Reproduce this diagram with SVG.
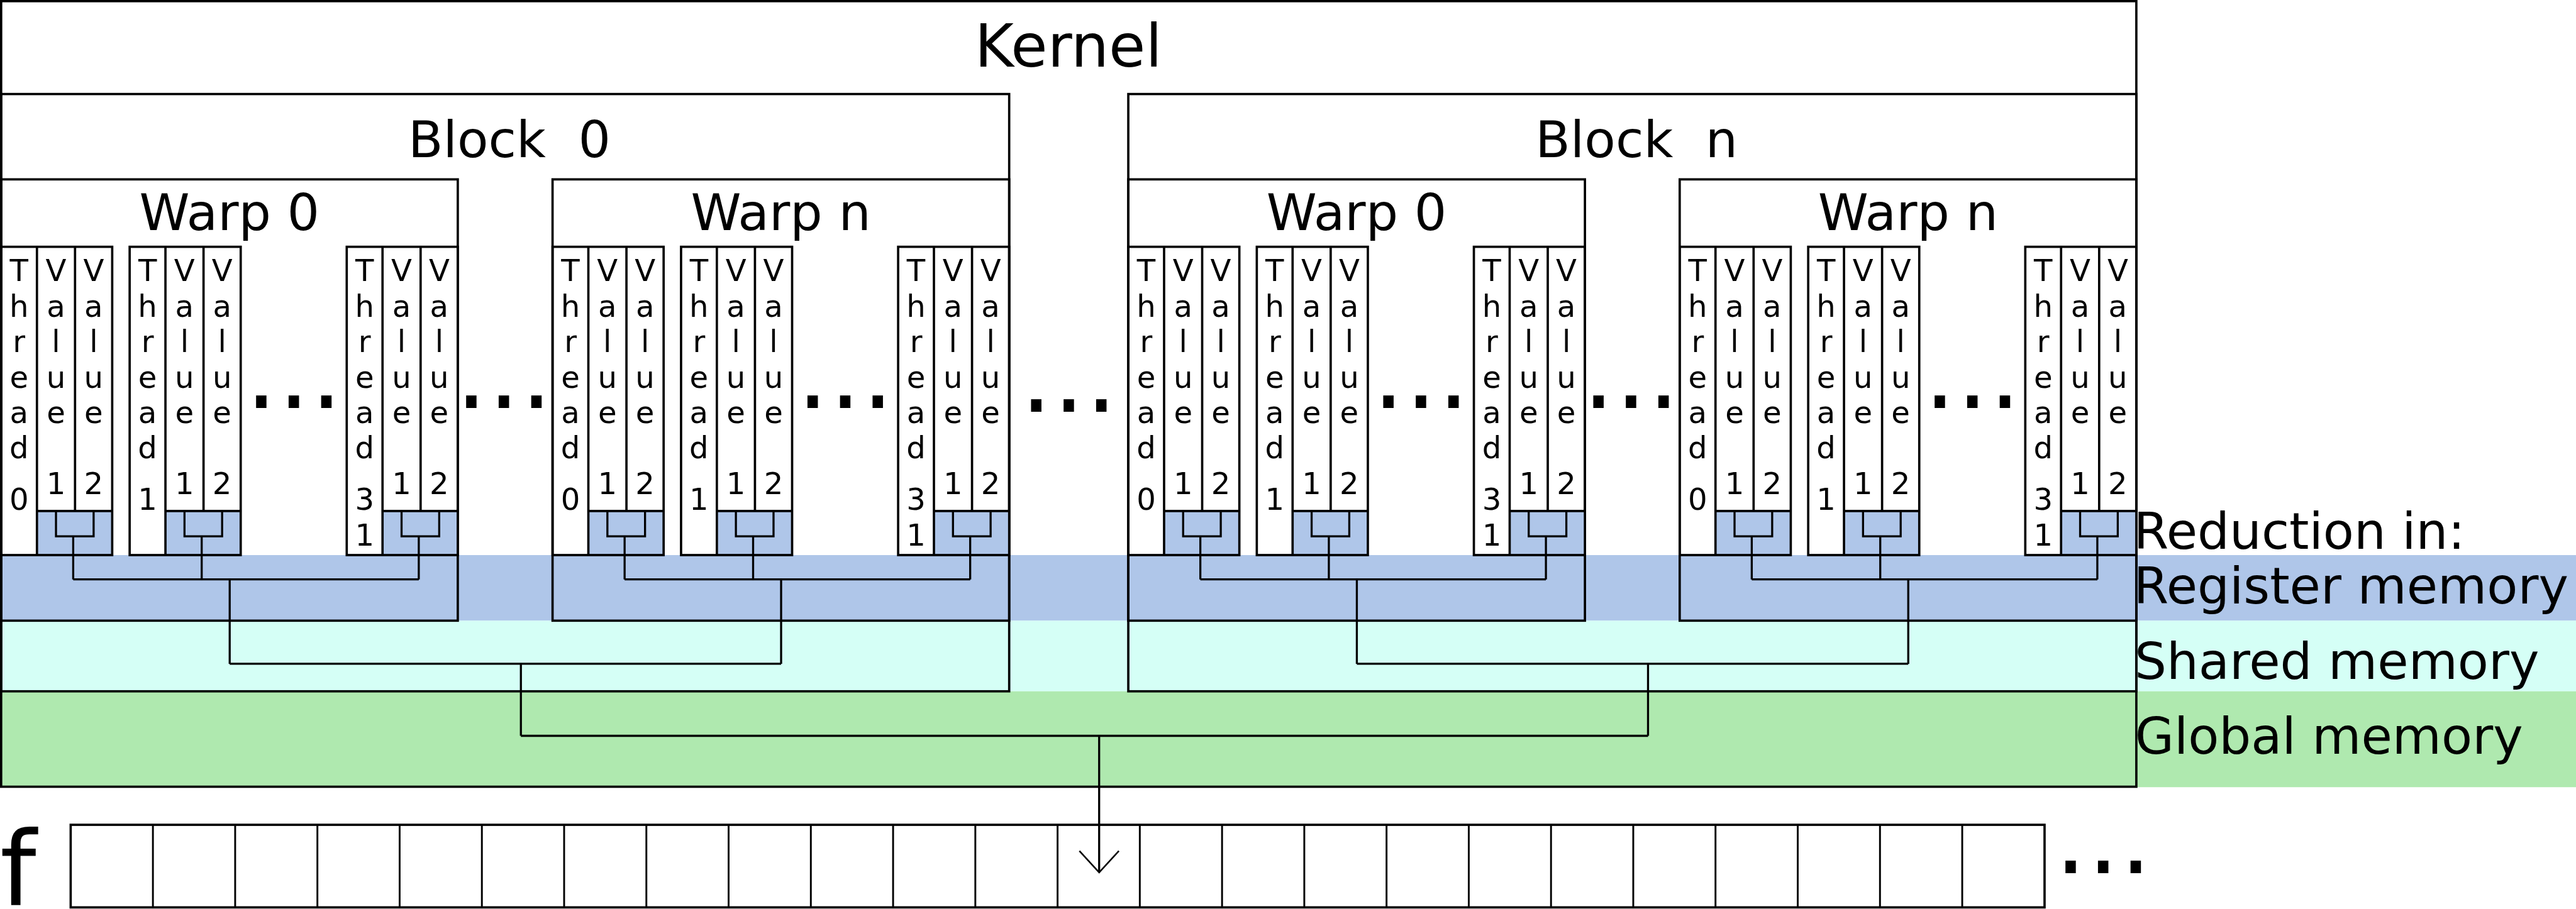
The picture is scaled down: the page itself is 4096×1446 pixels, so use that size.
<svg xmlns="http://www.w3.org/2000/svg" width="4096" height="1446" viewBox="0 0 4096 1446">
<style>
.b{fill:none;stroke:#000;stroke-width:5}
.c{fill:none;stroke:#000;stroke-width:4.5}
.cell{fill:none;stroke:#000;stroke-width:4}
.blue{fill:#afc6e9}
.t{font-family:"DejaVu Sans","Liberation Sans",sans-serif;fill:#000}
.v{font-size:66px;text-anchor:middle}
.h{font-size:111px;text-anchor:middle}
.k{font-size:130px;text-anchor:middle}
.lab{font-size:110px}
.dots{font-size:220px;letter-spacing:1px}
.f{font-size:224px}
</style>
<rect x="0" y="0" width="4096" height="1446" fill="#fff"/>
<g transform="scale(0.729735)">
<g id="bands">
<rect x="0" y="1210" width="5613" height="143" fill="#afc6e9"/>
<rect x="0" y="1353" width="5613" height="154" fill="#d5fff6"/>
<rect x="0" y="1507" width="5613" height="209" fill="#afe9af"/>
</g>
<g id="kernel">
<rect class="b" x="2.5" y="2.5" width="4652.5" height="1712.5"/>
<text class="t k" x="2328" y="145">Kernel</text>
</g>
<g id="block-0">
<rect class="b" x="2.5" y="205" width="2196.5" height="1302"/>
<text class="t h" x="1110" y="343" xml:space="preserve">Block  0</text>
</g>
<g id="block-n">
<rect class="b" x="2458.5" y="205" width="2196.5" height="1302"/>
<text class="t h" x="3566" y="343" xml:space="preserve">Block  n</text>
</g>

<g id="block0-warp0" transform="translate(2.5,0)">
<rect class="b" x="0" y="391" width="995" height="962"/>
<text class="t h" x="497.5" y="502">Warp 0</text>
<g id="block0-warp0-thread0">
<rect class="blue" x="78" y="1114" width="164" height="96"/>
<rect class="b" x="0" y="538" width="242" height="672"/>
<path class="b" d="M78 538V1210M161 538V1114M78 1114H242"/>
<text class="t v"><tspan x="39" y="612">T</tspan><tspan x="39" y="690">h</tspan><tspan x="39" y="767">r</tspan><tspan x="39" y="845">e</tspan><tspan x="39" y="922">a</tspan><tspan x="39" y="999">d</tspan><tspan x="39" y="1050"> </tspan><tspan x="39" y="1111">0</tspan></text>
<text class="t v"><tspan x="119.5" y="612">V</tspan><tspan x="119.5" y="690">a</tspan><tspan x="119.5" y="767">l</tspan><tspan x="119.5" y="845">u</tspan><tspan x="119.5" y="922">e</tspan><tspan x="119.5" y="999"> </tspan><tspan x="119.5" y="1077">1</tspan></text>
<text class="t v"><tspan x="201.5" y="612">V</tspan><tspan x="201.5" y="690">a</tspan><tspan x="201.5" y="767">l</tspan><tspan x="201.5" y="845">u</tspan><tspan x="201.5" y="922">e</tspan><tspan x="201.5" y="999"> </tspan><tspan x="201.5" y="1077">2</tspan></text>
</g>
<g id="block0-warp0-thread1" transform="translate(280,0)">
<rect class="blue" x="78" y="1114" width="164" height="96"/>
<rect class="b" x="0" y="538" width="242" height="672"/>
<path class="b" d="M78 538V1210M161 538V1114M78 1114H242"/>
<text class="t v"><tspan x="39" y="612">T</tspan><tspan x="39" y="690">h</tspan><tspan x="39" y="767">r</tspan><tspan x="39" y="845">e</tspan><tspan x="39" y="922">a</tspan><tspan x="39" y="999">d</tspan><tspan x="39" y="1050"> </tspan><tspan x="39" y="1111">1</tspan></text>
<text class="t v"><tspan x="119.5" y="612">V</tspan><tspan x="119.5" y="690">a</tspan><tspan x="119.5" y="767">l</tspan><tspan x="119.5" y="845">u</tspan><tspan x="119.5" y="922">e</tspan><tspan x="119.5" y="999"> </tspan><tspan x="119.5" y="1077">1</tspan></text>
<text class="t v"><tspan x="201.5" y="612">V</tspan><tspan x="201.5" y="690">a</tspan><tspan x="201.5" y="767">l</tspan><tspan x="201.5" y="845">u</tspan><tspan x="201.5" y="922">e</tspan><tspan x="201.5" y="999"> </tspan><tspan x="201.5" y="1077">2</tspan></text>
</g>
<g id="block0-warp0-thread31" transform="translate(753,0)">
<rect class="blue" x="78" y="1114" width="164" height="96"/>
<rect class="b" x="0" y="538" width="242" height="672"/>
<path class="b" d="M78 538V1210M161 538V1114M78 1114H242"/>
<text class="t v"><tspan x="39" y="612">T</tspan><tspan x="39" y="690">h</tspan><tspan x="39" y="767">r</tspan><tspan x="39" y="845">e</tspan><tspan x="39" y="922">a</tspan><tspan x="39" y="999">d</tspan><tspan x="39" y="1050"> </tspan><tspan x="39" y="1111">3</tspan><tspan x="39" y="1189">1</tspan></text>
<text class="t v"><tspan x="119.5" y="612">V</tspan><tspan x="119.5" y="690">a</tspan><tspan x="119.5" y="767">l</tspan><tspan x="119.5" y="845">u</tspan><tspan x="119.5" y="922">e</tspan><tspan x="119.5" y="999"> </tspan><tspan x="119.5" y="1077">1</tspan></text>
<text class="t v"><tspan x="201.5" y="612">V</tspan><tspan x="201.5" y="690">a</tspan><tspan x="201.5" y="767">l</tspan><tspan x="201.5" y="845">u</tspan><tspan x="201.5" y="922">e</tspan><tspan x="201.5" y="999"> </tspan><tspan x="201.5" y="1077">2</tspan></text>
</g>
<text class="t dots" x="532" y="889">...</text>
</g>

<g id="block0-warpn" transform="translate(1204,0)">
<rect class="b" x="0" y="391" width="995" height="962"/>
<text class="t h" x="497.5" y="502">Warp n</text>
<g id="block0-warpn-thread0">
<rect class="blue" x="78" y="1114" width="164" height="96"/>
<rect class="b" x="0" y="538" width="242" height="672"/>
<path class="b" d="M78 538V1210M161 538V1114M78 1114H242"/>
<text class="t v"><tspan x="39" y="612">T</tspan><tspan x="39" y="690">h</tspan><tspan x="39" y="767">r</tspan><tspan x="39" y="845">e</tspan><tspan x="39" y="922">a</tspan><tspan x="39" y="999">d</tspan><tspan x="39" y="1050"> </tspan><tspan x="39" y="1111">0</tspan></text>
<text class="t v"><tspan x="119.5" y="612">V</tspan><tspan x="119.5" y="690">a</tspan><tspan x="119.5" y="767">l</tspan><tspan x="119.5" y="845">u</tspan><tspan x="119.5" y="922">e</tspan><tspan x="119.5" y="999"> </tspan><tspan x="119.5" y="1077">1</tspan></text>
<text class="t v"><tspan x="201.5" y="612">V</tspan><tspan x="201.5" y="690">a</tspan><tspan x="201.5" y="767">l</tspan><tspan x="201.5" y="845">u</tspan><tspan x="201.5" y="922">e</tspan><tspan x="201.5" y="999"> </tspan><tspan x="201.5" y="1077">2</tspan></text>
</g>
<g id="block0-warpn-thread1" transform="translate(280,0)">
<rect class="blue" x="78" y="1114" width="164" height="96"/>
<rect class="b" x="0" y="538" width="242" height="672"/>
<path class="b" d="M78 538V1210M161 538V1114M78 1114H242"/>
<text class="t v"><tspan x="39" y="612">T</tspan><tspan x="39" y="690">h</tspan><tspan x="39" y="767">r</tspan><tspan x="39" y="845">e</tspan><tspan x="39" y="922">a</tspan><tspan x="39" y="999">d</tspan><tspan x="39" y="1050"> </tspan><tspan x="39" y="1111">1</tspan></text>
<text class="t v"><tspan x="119.5" y="612">V</tspan><tspan x="119.5" y="690">a</tspan><tspan x="119.5" y="767">l</tspan><tspan x="119.5" y="845">u</tspan><tspan x="119.5" y="922">e</tspan><tspan x="119.5" y="999"> </tspan><tspan x="119.5" y="1077">1</tspan></text>
<text class="t v"><tspan x="201.5" y="612">V</tspan><tspan x="201.5" y="690">a</tspan><tspan x="201.5" y="767">l</tspan><tspan x="201.5" y="845">u</tspan><tspan x="201.5" y="922">e</tspan><tspan x="201.5" y="999"> </tspan><tspan x="201.5" y="1077">2</tspan></text>
</g>
<g id="block0-warpn-thread31" transform="translate(753,0)">
<rect class="blue" x="78" y="1114" width="164" height="96"/>
<rect class="b" x="0" y="538" width="242" height="672"/>
<path class="b" d="M78 538V1210M161 538V1114M78 1114H242"/>
<text class="t v"><tspan x="39" y="612">T</tspan><tspan x="39" y="690">h</tspan><tspan x="39" y="767">r</tspan><tspan x="39" y="845">e</tspan><tspan x="39" y="922">a</tspan><tspan x="39" y="999">d</tspan><tspan x="39" y="1050"> </tspan><tspan x="39" y="1111">3</tspan><tspan x="39" y="1189">1</tspan></text>
<text class="t v"><tspan x="119.5" y="612">V</tspan><tspan x="119.5" y="690">a</tspan><tspan x="119.5" y="767">l</tspan><tspan x="119.5" y="845">u</tspan><tspan x="119.5" y="922">e</tspan><tspan x="119.5" y="999"> </tspan><tspan x="119.5" y="1077">1</tspan></text>
<text class="t v"><tspan x="201.5" y="612">V</tspan><tspan x="201.5" y="690">a</tspan><tspan x="201.5" y="767">l</tspan><tspan x="201.5" y="845">u</tspan><tspan x="201.5" y="922">e</tspan><tspan x="201.5" y="999"> </tspan><tspan x="201.5" y="1077">2</tspan></text>
</g>
<text class="t dots" x="532" y="889">...</text>
</g>

<g id="blockn-warp0" transform="translate(2458.5,0)">
<rect class="b" x="0" y="391" width="995" height="962"/>
<text class="t h" x="497.5" y="502">Warp 0</text>
<g id="blockn-warp0-thread0">
<rect class="blue" x="78" y="1114" width="164" height="96"/>
<rect class="b" x="0" y="538" width="242" height="672"/>
<path class="b" d="M78 538V1210M161 538V1114M78 1114H242"/>
<text class="t v"><tspan x="39" y="612">T</tspan><tspan x="39" y="690">h</tspan><tspan x="39" y="767">r</tspan><tspan x="39" y="845">e</tspan><tspan x="39" y="922">a</tspan><tspan x="39" y="999">d</tspan><tspan x="39" y="1050"> </tspan><tspan x="39" y="1111">0</tspan></text>
<text class="t v"><tspan x="119.5" y="612">V</tspan><tspan x="119.5" y="690">a</tspan><tspan x="119.5" y="767">l</tspan><tspan x="119.5" y="845">u</tspan><tspan x="119.5" y="922">e</tspan><tspan x="119.5" y="999"> </tspan><tspan x="119.5" y="1077">1</tspan></text>
<text class="t v"><tspan x="201.5" y="612">V</tspan><tspan x="201.5" y="690">a</tspan><tspan x="201.5" y="767">l</tspan><tspan x="201.5" y="845">u</tspan><tspan x="201.5" y="922">e</tspan><tspan x="201.5" y="999"> </tspan><tspan x="201.5" y="1077">2</tspan></text>
</g>
<g id="blockn-warp0-thread1" transform="translate(280,0)">
<rect class="blue" x="78" y="1114" width="164" height="96"/>
<rect class="b" x="0" y="538" width="242" height="672"/>
<path class="b" d="M78 538V1210M161 538V1114M78 1114H242"/>
<text class="t v"><tspan x="39" y="612">T</tspan><tspan x="39" y="690">h</tspan><tspan x="39" y="767">r</tspan><tspan x="39" y="845">e</tspan><tspan x="39" y="922">a</tspan><tspan x="39" y="999">d</tspan><tspan x="39" y="1050"> </tspan><tspan x="39" y="1111">1</tspan></text>
<text class="t v"><tspan x="119.5" y="612">V</tspan><tspan x="119.5" y="690">a</tspan><tspan x="119.5" y="767">l</tspan><tspan x="119.5" y="845">u</tspan><tspan x="119.5" y="922">e</tspan><tspan x="119.5" y="999"> </tspan><tspan x="119.5" y="1077">1</tspan></text>
<text class="t v"><tspan x="201.5" y="612">V</tspan><tspan x="201.5" y="690">a</tspan><tspan x="201.5" y="767">l</tspan><tspan x="201.5" y="845">u</tspan><tspan x="201.5" y="922">e</tspan><tspan x="201.5" y="999"> </tspan><tspan x="201.5" y="1077">2</tspan></text>
</g>
<g id="blockn-warp0-thread31" transform="translate(753,0)">
<rect class="blue" x="78" y="1114" width="164" height="96"/>
<rect class="b" x="0" y="538" width="242" height="672"/>
<path class="b" d="M78 538V1210M161 538V1114M78 1114H242"/>
<text class="t v"><tspan x="39" y="612">T</tspan><tspan x="39" y="690">h</tspan><tspan x="39" y="767">r</tspan><tspan x="39" y="845">e</tspan><tspan x="39" y="922">a</tspan><tspan x="39" y="999">d</tspan><tspan x="39" y="1050"> </tspan><tspan x="39" y="1111">3</tspan><tspan x="39" y="1189">1</tspan></text>
<text class="t v"><tspan x="119.5" y="612">V</tspan><tspan x="119.5" y="690">a</tspan><tspan x="119.5" y="767">l</tspan><tspan x="119.5" y="845">u</tspan><tspan x="119.5" y="922">e</tspan><tspan x="119.5" y="999"> </tspan><tspan x="119.5" y="1077">1</tspan></text>
<text class="t v"><tspan x="201.5" y="612">V</tspan><tspan x="201.5" y="690">a</tspan><tspan x="201.5" y="767">l</tspan><tspan x="201.5" y="845">u</tspan><tspan x="201.5" y="922">e</tspan><tspan x="201.5" y="999"> </tspan><tspan x="201.5" y="1077">2</tspan></text>
</g>
<text class="t dots" x="532" y="889">...</text>
</g>

<g id="blockn-warpn" transform="translate(3660,0)">
<rect class="b" x="0" y="391" width="995" height="962"/>
<text class="t h" x="497.5" y="502">Warp n</text>
<g id="blockn-warpn-thread0">
<rect class="blue" x="78" y="1114" width="164" height="96"/>
<rect class="b" x="0" y="538" width="242" height="672"/>
<path class="b" d="M78 538V1210M161 538V1114M78 1114H242"/>
<text class="t v"><tspan x="39" y="612">T</tspan><tspan x="39" y="690">h</tspan><tspan x="39" y="767">r</tspan><tspan x="39" y="845">e</tspan><tspan x="39" y="922">a</tspan><tspan x="39" y="999">d</tspan><tspan x="39" y="1050"> </tspan><tspan x="39" y="1111">0</tspan></text>
<text class="t v"><tspan x="119.5" y="612">V</tspan><tspan x="119.5" y="690">a</tspan><tspan x="119.5" y="767">l</tspan><tspan x="119.5" y="845">u</tspan><tspan x="119.5" y="922">e</tspan><tspan x="119.5" y="999"> </tspan><tspan x="119.5" y="1077">1</tspan></text>
<text class="t v"><tspan x="201.5" y="612">V</tspan><tspan x="201.5" y="690">a</tspan><tspan x="201.5" y="767">l</tspan><tspan x="201.5" y="845">u</tspan><tspan x="201.5" y="922">e</tspan><tspan x="201.5" y="999"> </tspan><tspan x="201.5" y="1077">2</tspan></text>
</g>
<g id="blockn-warpn-thread1" transform="translate(280,0)">
<rect class="blue" x="78" y="1114" width="164" height="96"/>
<rect class="b" x="0" y="538" width="242" height="672"/>
<path class="b" d="M78 538V1210M161 538V1114M78 1114H242"/>
<text class="t v"><tspan x="39" y="612">T</tspan><tspan x="39" y="690">h</tspan><tspan x="39" y="767">r</tspan><tspan x="39" y="845">e</tspan><tspan x="39" y="922">a</tspan><tspan x="39" y="999">d</tspan><tspan x="39" y="1050"> </tspan><tspan x="39" y="1111">1</tspan></text>
<text class="t v"><tspan x="119.5" y="612">V</tspan><tspan x="119.5" y="690">a</tspan><tspan x="119.5" y="767">l</tspan><tspan x="119.5" y="845">u</tspan><tspan x="119.5" y="922">e</tspan><tspan x="119.5" y="999"> </tspan><tspan x="119.5" y="1077">1</tspan></text>
<text class="t v"><tspan x="201.5" y="612">V</tspan><tspan x="201.5" y="690">a</tspan><tspan x="201.5" y="767">l</tspan><tspan x="201.5" y="845">u</tspan><tspan x="201.5" y="922">e</tspan><tspan x="201.5" y="999"> </tspan><tspan x="201.5" y="1077">2</tspan></text>
</g>
<g id="blockn-warpn-thread31" transform="translate(753,0)">
<rect class="blue" x="78" y="1114" width="164" height="96"/>
<rect class="b" x="0" y="538" width="242" height="672"/>
<path class="b" d="M78 538V1210M161 538V1114M78 1114H242"/>
<text class="t v"><tspan x="39" y="612">T</tspan><tspan x="39" y="690">h</tspan><tspan x="39" y="767">r</tspan><tspan x="39" y="845">e</tspan><tspan x="39" y="922">a</tspan><tspan x="39" y="999">d</tspan><tspan x="39" y="1050"> </tspan><tspan x="39" y="1111">3</tspan><tspan x="39" y="1189">1</tspan></text>
<text class="t v"><tspan x="119.5" y="612">V</tspan><tspan x="119.5" y="690">a</tspan><tspan x="119.5" y="767">l</tspan><tspan x="119.5" y="845">u</tspan><tspan x="119.5" y="922">e</tspan><tspan x="119.5" y="999"> </tspan><tspan x="119.5" y="1077">1</tspan></text>
<text class="t v"><tspan x="201.5" y="612">V</tspan><tspan x="201.5" y="690">a</tspan><tspan x="201.5" y="767">l</tspan><tspan x="201.5" y="845">u</tspan><tspan x="201.5" y="922">e</tspan><tspan x="201.5" y="999"> </tspan><tspan x="201.5" y="1077">2</tspan></text>
</g>
<text class="t dots" x="532" y="889">...</text>
</g>

<g id="gap-dots">
<text class="t dots" x="992" y="889">...</text>
<text class="t dots" x="2223" y="898">...</text>
<text class="t dots" x="3448" y="889">...</text>
</g>

<g id="connectors">
<path class="c" transform="translate(2.5,0)" d="M119.5 1114V1169H201.5V1114M157 1169V1263M399.5 1114V1169H481.5V1114M437 1169V1263M872.5 1114V1169H954.5V1114M910 1169V1263M157 1263H910M498 1263V1447"/>
<path class="c" transform="translate(1204,0)" d="M119.5 1114V1169H201.5V1114M157 1169V1263M399.5 1114V1169H481.5V1114M437 1169V1263M872.5 1114V1169H954.5V1114M910 1169V1263M157 1263H910M498 1263V1447"/>
<path class="c" transform="translate(2458.5,0)" d="M119.5 1114V1169H201.5V1114M157 1169V1263M399.5 1114V1169H481.5V1114M437 1169V1263M872.5 1114V1169H954.5V1114M910 1169V1263M157 1263H910M498 1263V1447"/>
<path class="c" transform="translate(3660,0)" d="M119.5 1114V1169H201.5V1114M157 1169V1263M399.5 1114V1169H481.5V1114M437 1169V1263M872.5 1114V1169H954.5V1114M910 1169V1263M157 1263H910M498 1263V1447"/>
<path class="c" d="M500.5 1447H1702M1135 1447V1604M2956.5 1447H4158M3591 1447V1604M1135 1604H3591M2395 1604V1902"/>
<path d="M2352 1855L2395 1902L2438 1855" fill="none" stroke="#000" stroke-width="3.5"/>
</g>

<g id="labels">
<text class="t lab" x="4649" y="1197">Reduction in:</text>
<text class="t lab" x="4649" y="1315">Register memory</text>
<text class="t lab" x="4651" y="1480">Shared memory</text>
<text class="t lab" x="4652" y="1643">Global memory</text>
</g>

<g id="array-f">
<text class="t f" x="0" y="1973">f</text>
<rect class="b" x="154" y="1798" width="4301" height="180"/>
<path class="cell" d="M333.2 1798V1978M512.4 1798V1978M691.6 1798V1978M870.8 1798V1978M1050 1798V1978M1229.2 1798V1978M1408.4 1798V1978M1587.6 1798V1978M1766.8 1798V1978M1946 1798V1978M2125.2 1798V1978M2304.4 1798V1978M2483.6 1798V1978M2662.8 1798V1978M2842 1798V1978M3021.2 1798V1978M3200.4 1798V1978M3379.6 1798V1978M3558.8 1798V1978M3738 1798V1978M3917.2 1798V1978M4096.4 1798V1978M4275.6 1798V1978"/>
<text class="t dots" x="4477" y="1904">...</text>
</g>
</g>
</svg>
